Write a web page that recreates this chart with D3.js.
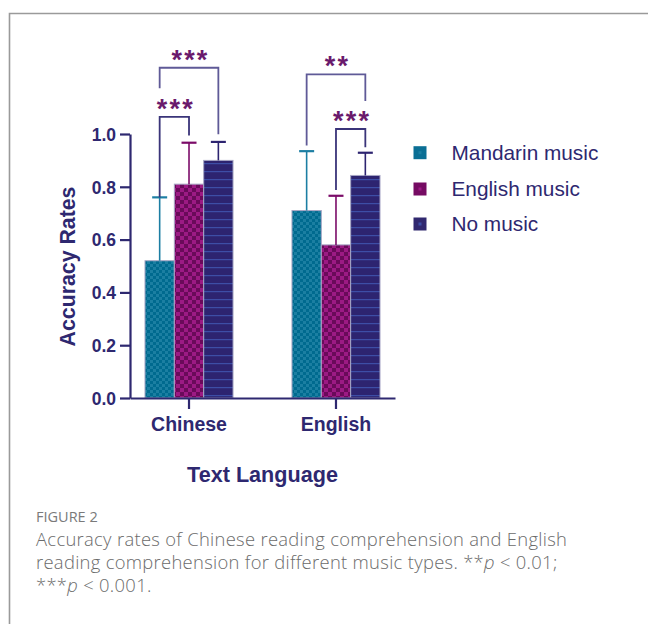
<!DOCTYPE html>
<html><head><meta charset="utf-8">
<script src="https://cdn.jsdelivr.net/npm/d3@7/dist/d3.min.js"></script>
<style>
html,body{margin:0;padding:0;background:#fff;}
svg{display:block;}
</style></head>
<body>
<svg id="c" width="648" height="624"></svg>
<script>
const categories = ["Chinese", "English"];
const seriesNames = ["Mandarin music", "English music", "No music"];
const mandarinMean = [0.52, 0.71];
const mandarinSD   = [0.24, 0.225];
const englishMean  = [0.81, 0.58];
const englishSD    = [0.157, 0.186];
const noMusicMean  = [0.90, 0.843];
const noMusicSD    = [0.07, 0.086];
const yTicks = [0.0, 0.2, 0.4, 0.6, 0.8, 1.0];
// significance: category, first series, second series, bracket level (y value), leg ends, label
const sigCategory = ["Chinese", "Chinese", "English", "English"];
const sigFrom     = [0, 0, 0, 1];
const sigTo       = [2, 1, 2, 2];
const sigLevel    = [1.251, 1.065, 1.226, 1.019];
const sigLegA     = [1.173, 0.759, 0.956, 0.788];
const sigLegB     = [0.999, 0.994, 1.125, 0.95];
const sigLabel    = ["***", "***", "**", "***"];

const means = [mandarinMean, englishMean, noMusicMean];
const sds = [mandarinSD, englishSD, noMusicSD];
const data = [];
categories.forEach((c, ci) => seriesNames.forEach((s, si) => {
  data.push({cat: c, ser: s, si, mean: means[si][ci], sd: sds[si][ci]});
}));

const svg = d3.select("#c");
const navy = "#2e2870";
const baseCol = ["#006a8f", "#6a0a5a", "#2d2470"];
const errCol = ["#1c7ea3", "#7b0b68", "#2d2470"];
const legCol = ["#0a6f95", "#760b63", "#30286f"];

// frame
svg.append("path").attr("d", "M9.5,624 V13.5 H648").attr("fill", "none")
  .attr("stroke", "#9a9a9a").attr("stroke-width", 1.6);

// patterns
const defs = svg.append("defs");
const p0 = defs.append("pattern").attr("id", "pat0").attr("patternUnits", "userSpaceOnUse")
  .attr("width", 6).attr("height", 6);
p0.append("rect").attr("width", 6).attr("height", 6).attr("fill", baseCol[0]);
p0.append("rect").attr("width", 3).attr("height", 3).attr("fill", "#1b7fa2");
p0.append("rect").attr("x", 3).attr("y", 3).attr("width", 3).attr("height", 3).attr("fill", "#1b7fa2");
const p1 = defs.append("pattern").attr("id", "pat1").attr("patternUnits", "userSpaceOnUse")
  .attr("width", 8).attr("height", 8);
p1.append("rect").attr("width", 8).attr("height", 8).attr("fill", baseCol[1]);
p1.append("rect").attr("width", 4).attr("height", 4).attr("fill", "#9c1a84");
p1.append("rect").attr("x", 4).attr("y", 4).attr("width", 4).attr("height", 4).attr("fill", "#9c1a84");
const p2 = defs.append("pattern").attr("id", "pat2").attr("patternUnits", "userSpaceOnUse")
  .attr("width", 8).attr("height", 8);
p2.append("rect").attr("width", 8).attr("height", 8).attr("fill", baseCol[2]);
p2.append("rect").attr("y", 3).attr("width", 8).attr("height", 1.2).attr("fill", "#3d4ea6");

const y = d3.scaleLinear().domain([0, 1]).range([398, 134]);
const x0 = d3.scaleBand().domain(categories).range([130, 395])
  .paddingInner(0.401).paddingOuter(0.102);
const x1 = d3.scaleBand().domain(seriesNames).range([0, x0.bandwidth()]);
const cx = (cat, si) => x0(cat) + x1(seriesNames[si]) + x1.bandwidth() / 2;

// bars
svg.append("g").selectAll("rect").data(data).join("rect")
  .attr("x", d => x0(d.cat) + x1(d.ser))
  .attr("y", d => y(d.mean))
  .attr("width", x1.bandwidth())
  .attr("height", d => y(0) - y(d.mean))
  .attr("fill", d => `url(#pat${d.si})`)
  .attr("stroke", "#a7a6c4").attr("stroke-width", 1);

// error bars
const eb = svg.append("g");
data.forEach(d => {
  const xc = x0(d.cat) + x1(d.ser) + x1.bandwidth() / 2;
  eb.append("line").attr("x1", xc).attr("x2", xc)
    .attr("y1", y(d.mean)).attr("y2", y(d.mean + d.sd))
    .attr("stroke", errCol[d.si]).attr("stroke-width", 1.6);
  eb.append("line").attr("x1", xc - 7.5).attr("x2", xc + 7.5)
    .attr("y1", y(d.mean + d.sd)).attr("y2", y(d.mean + d.sd))
    .attr("stroke", errCol[d.si]).attr("stroke-width", 2.2);
});

// significance brackets
const font = "Liberation Sans, Arial, sans-serif";
const sg = svg.append("g");
sigLabel.forEach((lab, i) => {
  const xa = cx(sigCategory[i], sigFrom[i]);
  const xb = cx(sigCategory[i], sigTo[i]);
  const yl = y(sigLevel[i]);
  sg.append("path")
    .attr("d", `M${xa},${y(sigLegA[i])} V${yl} H${xb} V${y(sigLegB[i])}`)
    .attr("fill", "none").attr("stroke", i % 2 === 0 ? "#5f5a97" : "#3a3479")
    .attr("stroke-width", 1.8);
  sg.append("text").attr("x", (xa + xb) / 2 + 1.5).attr("y", yl + 1)
    .attr("text-anchor", "middle")
    .attr("font-family", font)
    .attr("font-weight", "bold").attr("font-size", 27)
    .attr("letter-spacing", 2.2)
    .attr("fill", "#6a1a6c").text(lab);
});

// axes
const yAxis = svg.append("g").attr("transform", "translate(130,0)")
  .call(d3.axisLeft(y).tickValues(yTicks).tickFormat(d3.format(".1f"))
    .tickSize(10).tickSizeOuter(0).tickPadding(4));
const xAxis = svg.append("g").attr("transform", "translate(0,398)")
  .call(d3.axisBottom(x0).tickSize(11).tickSizeOuter(0).tickPadding(4));
[yAxis, xAxis].forEach(g => {
  g.select(".domain").attr("stroke", navy).attr("stroke-width", 2.2);
  g.selectAll(".tick line").attr("stroke", navy).attr("stroke-width", 2.2);
  g.selectAll(".tick text").attr("fill", navy).attr("font-family", font)
    .attr("font-weight", "bold");
});
yAxis.selectAll(".tick text").attr("font-size", 17.5).attr("dy", "0.36em");
xAxis.selectAll(".tick text").attr("font-size", 19.5).attr("dy", "0.9em");

svg.append("text").attr("transform", "translate(75,266.5) rotate(-90)")
  .attr("text-anchor", "middle").attr("font-family", font).attr("font-weight", "bold")
  .attr("font-size", 21.3).attr("fill", navy).text("Accuracy Rates");
svg.append("text").attr("x", 262.5).attr("y", 482)
  .attr("text-anchor", "middle").attr("font-family", font).attr("font-weight", "bold")
  .attr("font-size", 21.6).attr("fill", navy).text("Text Language");

// legend
const lg = svg.append("g");
const legY = [152.7, 189, 224];
seriesNames.forEach((s, i) => {
  lg.append("rect").attr("x", 413.5).attr("y", legY[i] - 6.5).attr("width", 13).attr("height", 13)
    .attr("fill", legCol[i]);
  lg.append("rect").attr("x", 418.5).attr("y", legY[i] - 1.5).attr("width", 3).attr("height", 3)
    .attr("fill", i === 2 ? "#3d4ea6" : (i === 0 ? "#1b7fa2" : "#9c1a84"));
  lg.append("text").attr("x", 451.5).attr("y", legY[i]).attr("dy", "0.36em")
    .attr("font-family", font).attr("font-size", 20.8).attr("fill", navy).text(s);
});

// caption
const cap = svg.append("g");
cap.append("text").attr("x", 36).attr("y", 522).attr("font-size", 14.5)
  .attr("fill", "#7a7a7a").attr("font-family", "Open Sans, sans-serif").text("FIGURE 2");
const capLines = [
  "Accuracy rates of Chinese reading comprehension and English",
  "reading comprehension for different music types. **p < 0.01;",
  "***p < 0.001."
];
capLines.forEach((t, i) => {
  const tx = cap.append("text").attr("x", 36).attr("y", 546 + i * 23)
    .attr("font-size", 18.4).attr("font-weight", 300).attr("fill", "#6b6b6b")
    .attr("font-family", "Open Sans, sans-serif").attr("letter-spacing", 0.3);
  const parts = t.split(/(p)(?= <)/);
  parts.forEach(pt => {
    tx.append("tspan").attr("font-style", pt === "p" ? "italic" : null).text(pt);
  });
});
</script>
</body></html>
